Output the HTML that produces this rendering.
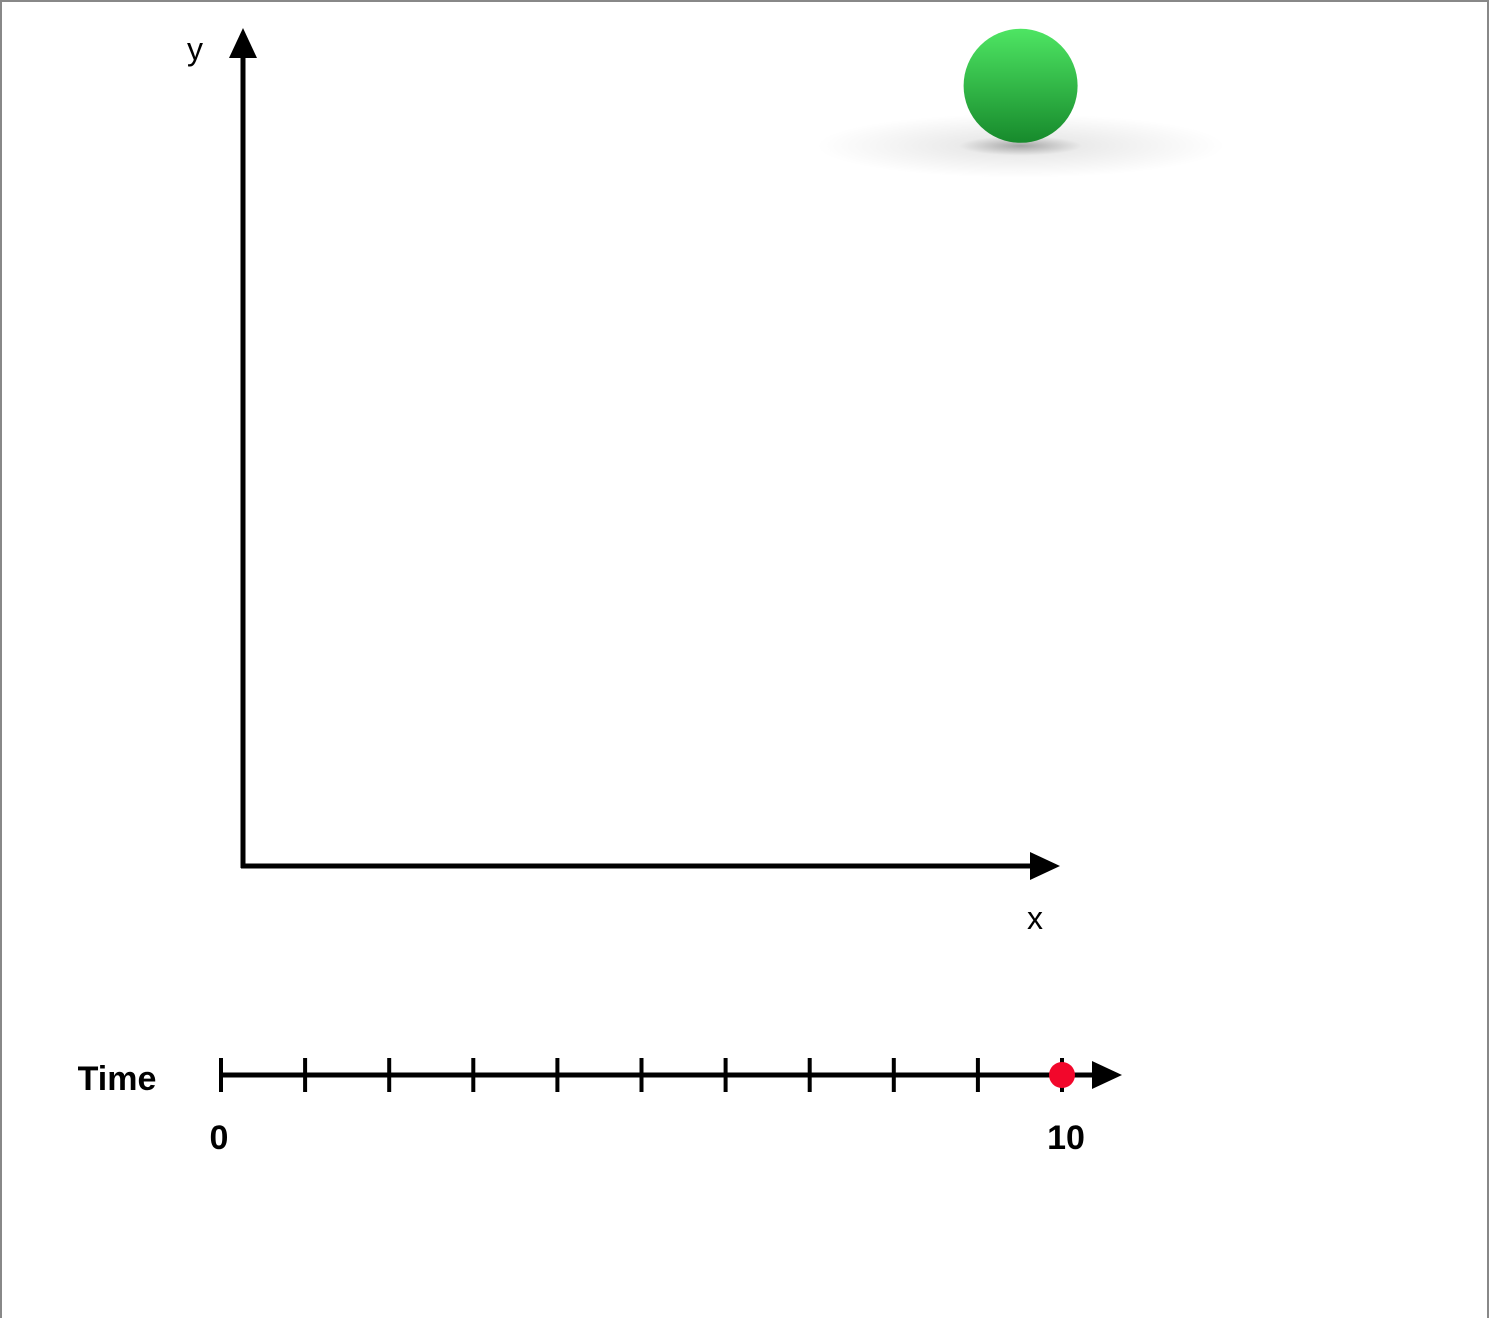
<!DOCTYPE html>
<html><head><meta charset="utf-8"><style>
html,body{margin:0;padding:0;background:#fff;}
svg{display:block;}
</style></head><body>
<svg id="chart" width="1490" height="1318" font-family="'Liberation Sans', sans-serif">
<defs>
<linearGradient id="ballGrad" x1="0" y1="0" x2="0" y2="1">
<stop offset="0" stop-color="#4ee563"/><stop offset="1" stop-color="#178a2c"/>
</linearGradient>
<radialGradient id="shadowGrad" cx="0.5" cy="0.5" r="0.5">
<stop offset="0" stop-color="#000" stop-opacity="0.35"/>
<stop offset="0.3" stop-color="#000" stop-opacity="0.08"/>
<stop offset="1" stop-color="#000" stop-opacity="0"/>
</radialGradient>
</defs>
<rect x="1" y="1" width="1487" height="1320" fill="none" stroke="#888" stroke-width="2"/>
<g>
<line x1="243" y1="868" x2="243" y2="50" stroke="#000" stroke-width="5"/>
<polygon points="229,58 257,58 243,28" fill="#000"/>
</g>
<text x="195" y="60" font-size="32" text-anchor="middle">y</text>
<g>
<line x1="241" y1="866" x2="1035" y2="866" stroke="#000" stroke-width="5"/>
<polygon points="1030,852 1030,880 1060,866" fill="#000"/>
</g>
<text x="1035" y="929" font-size="32" text-anchor="middle">x</text>
<g id="ballLayer"></g>
<g id="timeline">
<line x1="221" y1="1075" x2="1100" y2="1075" stroke="#000" stroke-width="5"/>
<polygon points="1092,1061 1092,1089 1122,1075" fill="#000"/>
</g>
<text x="117" y="1090" font-size="34" font-weight="bold" text-anchor="middle">Time</text>
</svg>
<script>
const tickValues = [0,1,2,3,4,5,6,7,8,9,10];
const tickLabels = ["0","10"];
const labelValues = [0,10];
const currentTime = [10];
const ballX = [0.96];
const ballY = [0.94];
const ns = "http://www.w3.org/2000/svg";
function tx(v){ return 221 + v*84.1; }
function ax(v){ return 243 + v*810; }
function ay(v){ return 866 - v*830; }
const tl = document.getElementById('timeline');
tickValues.forEach(v=>{
  const l=document.createElementNS(ns,'line');
  l.setAttribute('x1',tx(v));l.setAttribute('x2',tx(v));
  l.setAttribute('y1',1058);l.setAttribute('y2',1092);
  l.setAttribute('stroke','#000');l.setAttribute('stroke-width',4);
  
  
  tl.appendChild(l);
});
const svg=document.getElementById('chart');
labelValues.forEach((v,i)=>{
  const t=document.createElementNS(ns,'text');
  t.setAttribute('x',tx(v)+(i?4:-2));t.setAttribute('y',1149);
  t.setAttribute('font-size',34);t.setAttribute('font-weight','bold');
  t.setAttribute('text-anchor','middle');
  t.textContent=tickLabels[i];
  
  
  svg.appendChild(t);
});
const dot=document.createElementNS(ns,'circle');
dot.setAttribute('cx',tx(currentTime[0]));dot.setAttribute('cy',1075);
dot.setAttribute('r',13);dot.setAttribute('fill','#f2072b');


svg.appendChild(dot);
const bl=document.getElementById('ballLayer');
const bx=ax(ballX[0]), by=ay(ballY[0]);
const sh=document.createElementNS(ns,'ellipse');
sh.setAttribute('cx',bx);sh.setAttribute('cy',by+60);
sh.setAttribute('rx',205);sh.setAttribute('ry',32);
sh.setAttribute('fill','url(#shadowGrad)');


bl.appendChild(sh);
const b=document.createElementNS(ns,'circle');
b.setAttribute('cx',bx);b.setAttribute('cy',by);b.setAttribute('r',57);
b.setAttribute('fill','url(#ballGrad)');


bl.appendChild(b);
</script>
</body></html>
